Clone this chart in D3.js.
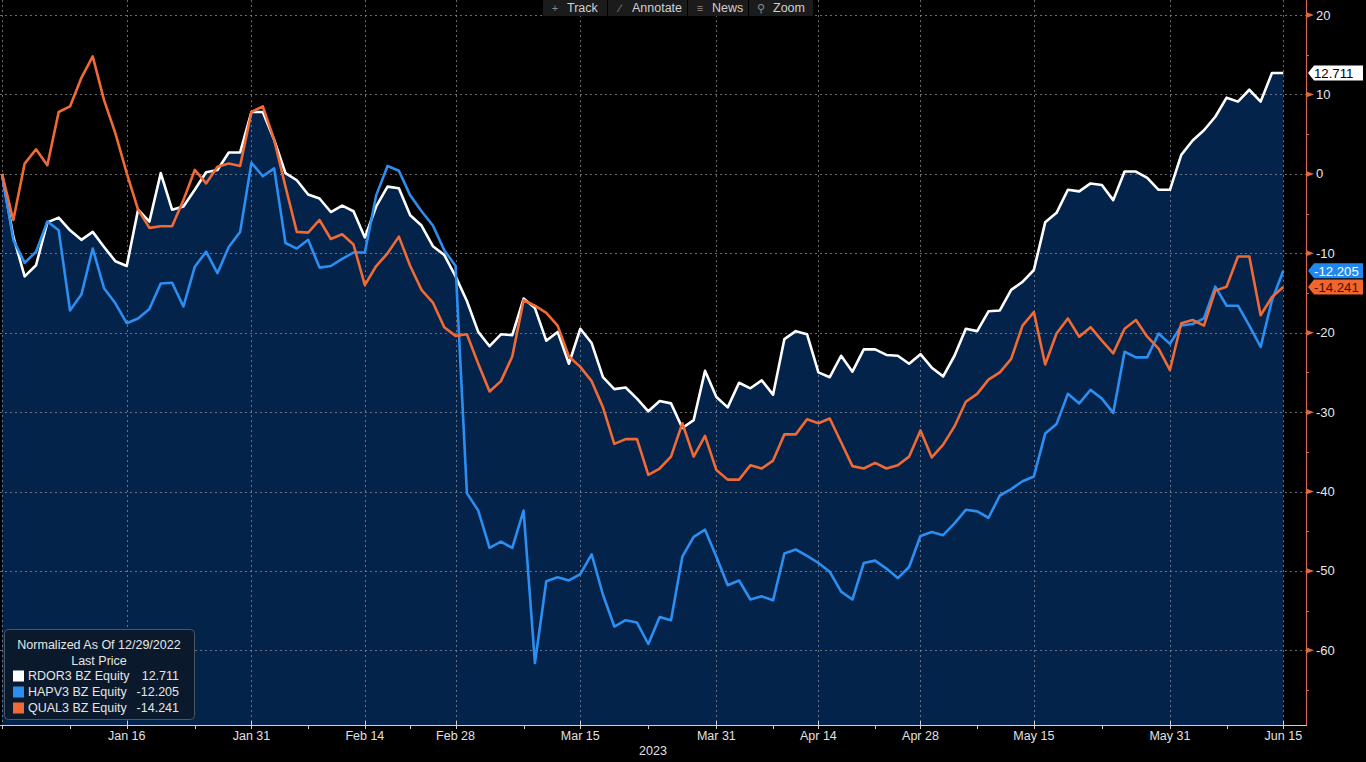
<!DOCTYPE html>
<html>
<head>
<meta charset="utf-8">
<script src="https://cdn.jsdelivr.net/npm/d3@7"></script>
<style>
  body { margin: 0; background: #000; }
  svg { display: block; font-family: "Liberation Sans", Arial, sans-serif; }
</style>
</head>
<body>
<div id="chart"></div>
<script>
/* Data */

var seriesNames = ["RDOR3 BZ Equity", "HAPV3 BZ Equity", "QUAL3 BZ Equity"];
var lastPrices = [12.711, -12.205, -14.241];
var seriesColors = ["#ffffff", "#2b8ef0", "#ef6a35"];

// B3 holidays between the first and last date (trading days only on the axis)
var holidays = ["2022-12-30", "2023-02-20", "2023-02-21", "2023-04-07", "2023-04-21", "2023-05-01", "2023-06-08"];
var startDate = "2022-12-29", endDate = "2023-06-15";

var tickLabels = ["Jan 16", "Jan 31", "Feb 14", "Feb 28", "Mar 15", "Mar 31", "Apr 14", "Apr 28", "May 15", "May 31", "Jun 15"];
var tickDates = ["2023-01-16", "2023-01-31", "2023-02-14", "2023-02-28", "2023-03-15", "2023-03-31", "2023-04-14", "2023-04-28", "2023-05-15", "2023-05-31", "2023-06-15"];
var yTicks = [20, 10, 0, -10, -20, -30, -40, -50, -60];

var rdor3 = [0, -7.9, -12.9, -11.5, -6.1, -5.5, -7.1, -8.3, -7.3, -9.2, -11.0, -11.6, -4.5, -6.0, 0.1, -4.5, -4.1, -2.0, 0.2, 0.5,
  2.7, 2.7, 7.8, 7.8, 4.3, 0.1, -0.8, -2.6, -3.1, -4.8, -4.0, -4.7, -8.0, -4.1, -1.6, -1.8, -5.2, -6.5, -9.1, -10.2,
  -12.9, -16.0, -19.9, -21.7, -20.2, -20.3, -15.7, -16.9, -21.0, -19.9, -23.9, -19.5, -21.3, -25.6, -27.1, -26.9, -28.3, -29.9, -28.6, -28.9,
  -32.0, -31.0, -24.8, -28.1, -29.4, -26.3, -27.0, -26.0, -27.8, -20.8, -19.8, -20.2, -25.0, -25.6, -22.9, -24.9, -22.1, -22.1, -22.8, -22.9,
  -23.9, -22.7, -24.4, -25.5, -22.9, -19.5, -19.8, -17.3, -17.2, -14.6, -13.6, -12.1, -6.1, -4.9, -2.0, -2.2, -1.2, -1.4, -3.3, 0.3,
  0.3, -0.5, -2.0, -2.0, 2.4, 4.2, 5.5, 7.2, 9.6, 9.1, 10.6, 9.1, 12.7, 12.711];

var hapv3 = [0, -8.3, -11.2, -9.8, -6.0, -7.1, -17.2, -15.2, -9.4, -14.4, -16.3, -18.8, -18.2, -17.0, -13.8, -13.7, -16.7, -11.7, -9.8, -12.5,
  -9.2, -7.3, 1.4, -0.3, 0.7, -8.7, -9.4, -8.3, -11.8, -11.6, -10.7, -9.9, -9.9, -2.7, 1.0, 0.4, -2.7, -4.7, -6.5, -9.6,
  -11.6, -40.2, -42.4, -47.1, -46.3, -47.1, -42.4, -61.6, -51.3, -50.8, -51.2, -50.4, -47.9, -53.0, -57.0, -56.2, -56.5, -59.2, -55.8, -56.2,
  -48.2, -45.7, -44.8, -48.2, -51.8, -51.2, -53.6, -53.2, -53.7, -47.8, -47.3, -48.1, -49.0, -50.1, -52.6, -53.6, -49.0, -48.7, -49.7, -50.9,
  -49.5, -45.6, -45.1, -45.5, -44.0, -42.3, -42.5, -43.3, -40.5, -39.7, -38.7, -38.1, -32.7, -31.5, -27.7, -28.9, -27.2, -28.3, -30.1, -22.4,
  -23.1, -23.1, -20.1, -21.4, -19.1, -18.9, -18.2, -14.2, -16.6, -16.6, -19.1, -21.8, -15.9, -12.205];

var qual3 = [0, -5.8, 1.3, 3.1, 1.1, 7.8, 8.5, 12.1, 14.8, 9.3, 5.1, 0.1, -4.5, -6.8, -6.6, -6.6, -3.3, 0.5, -1.2, 0.9,
  1.3, 1.0, 7.8, 8.5, 4.3, -1.6, -7.3, -7.4, -5.8, -8.2, -7.6, -8.9, -14.0, -11.6, -10.0, -7.9, -11.6, -14.6, -16.2, -19.3,
  -20.4, -20.2, -23.9, -27.4, -26.1, -23.0, -15.9, -16.6, -17.5, -19.1, -23.0, -24.3, -26.1, -29.4, -34.0, -33.4, -33.4, -37.9, -37.1, -35.6,
  -31.4, -35.6, -33.0, -37.3, -38.5, -38.5, -36.7, -37.1, -36.1, -32.8, -32.8, -30.9, -31.4, -30.8, -33.8, -36.8, -37.1, -36.4, -37.1, -36.7,
  -35.6, -32.3, -35.7, -34.1, -31.8, -28.7, -27.7, -25.9, -25.0, -23.3, -19.1, -17.4, -24.0, -20.1, -18.2, -20.5, -19.3, -21.0, -22.6, -19.5,
  -18.4, -20.5, -22.0, -24.7, -18.8, -18.4, -19.1, -14.7, -14.2, -10.4, -10.4, -17.8, -15.5, -14.241];

var series = [rdor3, hapv3, qual3];

/* Trading day calendar */

var parse = d3.timeParse("%Y-%m-%d");
var fmt = d3.timeFormat("%Y-%m-%d");
var dates = d3.timeDay.range(parse(startDate), d3.timeDay.offset(parse(endDate), 1))
  .filter(function(d) { return d.getDay() != 0 && d.getDay() != 6 && holidays.indexOf(fmt(d)) < 0; })
  .map(fmt);

var width = 1366, height = 762;
var plotRight = 1306, plotBottom = 725;

var x = d3.scaleLinear().domain([0, dates.length + 1]).range([2, plotRight]);
var y = d3.scaleLinear().domain([-69.4, 21.9]).range([plotBottom, 0]);

var svg = d3.select("#chart").append("svg").attr("width", width).attr("height", height);
svg.append("rect").attr("width", width).attr("height", height).attr("fill", "#000");

// area under the first series
var area = d3.area().x(function(d, i) { return x(i); }).y0(plotBottom).y1(function(d) { return y(d); });
svg.append("path").datum(rdor3).attr("d", area).attr("fill", "#03234a");

/* Grid */
var tickIdx = tickDates.map(function(d) { return dates.indexOf(d); });
var grid = svg.append("g").attr("stroke", "#8a8f96").attr("stroke-opacity", 0.75)
  .attr("stroke-width", 1).attr("stroke-dasharray", "2,3");
grid.selectAll("line.h").data(yTicks).enter().append("line").attr("class", "h")
  .attr("x1", 0).attr("x2", plotRight)
  .attr("y1", function(d) { return Math.round(y(d)) + 0.5; })
  .attr("y2", function(d) { return Math.round(y(d)) + 0.5; });
grid.selectAll("line.v").data([0].concat(tickIdx)).enter().append("line").attr("class", "v")
  .attr("x1", function(d) { return Math.round(x(d)) + 0.5; })
  .attr("x2", function(d) { return Math.round(x(d)) + 0.5; })
  .attr("y1", 0).attr("y2", plotBottom);

/* Lines */
var line = d3.line().x(function(d, i) { return x(i); }).y(function(d) { return y(d); });
[0, 1, 2].forEach(function(k) {
  svg.append("path").datum(series[k]).attr("d", line)
    .attr("fill", "none").attr("stroke", seriesColors[k])
    .attr("stroke-width", 2.6).attr("stroke-linejoin", "round");
});

/* Right axis */
var axisColor = "#d8645a";
svg.append("line").attr("x1", plotRight + 0.5).attr("x2", plotRight + 0.5).attr("y1", 0).attr("y2", plotBottom)
  .attr("stroke", axisColor).attr("stroke-width", 1.2);
svg.append("line").attr("x1", 0).attr("x2", plotRight + 1).attr("y1", plotBottom + 0.5).attr("y2", plotBottom + 0.5)
  .attr("stroke", "#d0d0d0").attr("stroke-width", 1.2);

var minorY = d3.range(-65, 20, 10);
svg.selectAll("line.ymin").data(minorY).enter().append("line")
  .attr("x1", plotRight).attr("x2", plotRight + 3)
  .attr("y1", function(d) { return Math.round(y(d)) + 0.5; })
  .attr("y2", function(d) { return Math.round(y(d)) + 0.5; })
  .attr("stroke", axisColor);
svg.selectAll("path.ytri").data(yTicks).enter().append("path")
  .attr("d", function(d) { var yy = y(d); return "M" + (plotRight) + "," + (yy - 3) + "L" + (plotRight + 8) + "," + yy + "L" + plotRight + "," + (yy + 3) + "Z"; })
  .attr("fill", "#e0683e");
svg.selectAll("text.ylab").data(yTicks).enter().append("text")
  .attr("x", 1316).attr("y", function(d) { return y(d) + 4.5; })
  .attr("fill", "#e6e6e6").attr("font-size", 13)
  .text(function(d) { return d; });

/* Value tags */
var tagText = ["#000", "#ffffff", "#4a0e00"];
var tagFill = ["#ffffff", "#2088f0", "#f0662c"];
lastPrices.forEach(function(v, k) {
  var yy = y(v), h = 7.5;
  svg.append("path")
    .attr("d", "M1308," + yy + "L1314," + (yy - h) + "L1363," + (yy - h) + "L1363," + (yy + h) + "L1314," + (yy + h) + "Z")
    .attr("fill", tagFill[k]);
  svg.append("text").attr("x", 1314).attr("y", yy + 4.8).attr("font-size", 13.2)
    .attr("fill", tagText[k]).text(v.toFixed(3));
});

/* Bottom axis */
var minorX = [];
for (var i = 0; i < tickIdx.length; i++) {
  var prev = i == 0 ? 0 : tickIdx[i - 1];
  minorX.push(Math.round((prev + tickIdx[i]) / 2));
}
minorX.push(0);
svg.selectAll("line.xmin").data(minorX).enter().append("line")
  .attr("x1", function(d) { return Math.round(x(d)) + 0.5; })
  .attr("x2", function(d) { return Math.round(x(d)) + 0.5; })
  .attr("y1", plotBottom).attr("y2", plotBottom + 4)
  .attr("stroke", "#d0d0d0");
svg.selectAll("line.xmaj").data(tickIdx).enter().append("line")
  .attr("x1", function(d) { return Math.round(x(d)) + 0.5; })
  .attr("x2", function(d) { return Math.round(x(d)) + 0.5; })
  .attr("y1", plotBottom - 4).attr("y2", plotBottom + 4)
  .attr("stroke", "#d0d0d0");
svg.selectAll("text.xlab").data(tickLabels).enter().append("text")
  .attr("x", function(d, i) { return x(tickIdx[i]); }).attr("y", 740)
  .attr("text-anchor", "middle").attr("fill", "#e0e0e0").attr("font-size", 12.5)
  .text(function(d) { return d; });
svg.append("text").attr("x", 653).attr("y", 755).attr("text-anchor", "middle")
  .attr("fill", "#e0e0e0").attr("font-size", 12.5).text("2023");

/* Toolbar */
var tools = [
  { label: "Track", x0: 543, x1: 607, icon: "+" },
  { label: "Annotate", x0: 608, x1: 687, icon: "\u2215" },
  { label: "News", x0: 688, x1: 748, icon: "\u2261" },
  { label: "Zoom", x0: 749, x1: 813, icon: "\u26B2" }
];
var tb = svg.append("g");
tb.selectAll("rect").data(tools).enter().append("rect")
  .attr("x", function(d) { return d.x0; }).attr("y", 0)
  .attr("width", function(d) { return d.x1 - d.x0; }).attr("height", 16)
  .attr("fill", "#1b1b1b");
tb.selectAll("text.icon").data(tools).enter().append("text")
  .attr("x", function(d) { return d.x0 + 12; }).attr("y", 12).attr("text-anchor", "middle")
  .attr("fill", "#8a8a8a").attr("font-size", 11).text(function(d) { return d.icon; });
tb.selectAll("text.lab").data(tools).enter().append("text")
  .attr("x", function(d) { return d.x0 + 24; }).attr("y", 12)
  .attr("fill", "#d0d0d0").attr("font-size", 12.5).text(function(d) { return d.label; });

/* Legend */
var lg = svg.append("g");
lg.append("rect").attr("x", 4.5).attr("y", 629.5).attr("width", 190).attr("height", 90).attr("rx", 4)
  .attr("fill", "#0a1a2c").attr("stroke", "#4a5866");
lg.append("text").attr("x", 99).attr("y", 649).attr("text-anchor", "middle")
  .attr("fill", "#e6e6e6").attr("font-size", 12.5).text("Normalized As Of 12/29/2022");
lg.append("text").attr("x", 99).attr("y", 665).attr("text-anchor", "middle")
  .attr("fill", "#e6e6e6").attr("font-size", 12.5).text("Last Price");
seriesNames.forEach(function(n, k) {
  var yy = 680 + k * 16;
  lg.append("rect").attr("x", 13).attr("y", yy - 9.5).attr("width", 11).attr("height", 11).attr("fill", seriesColors[k]);
  lg.append("text").attr("x", 28).attr("y", yy).attr("fill", "#e6e6e6").attr("font-size", 12.5).text(n);
  lg.append("text").attr("x", 179).attr("y", yy).attr("text-anchor", "end")
    .attr("fill", "#e6e6e6").attr("font-size", 12.5).text(lastPrices[k].toFixed(3));
});
</script>
</body>
</html>
